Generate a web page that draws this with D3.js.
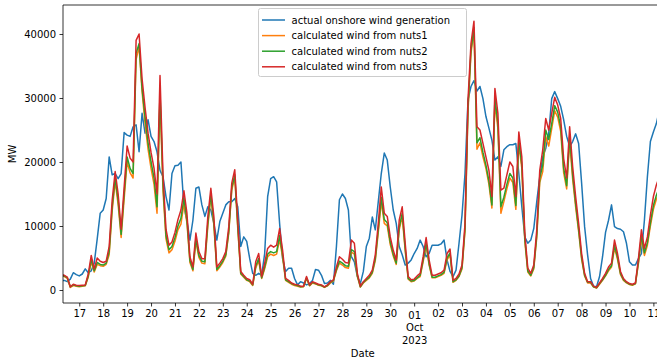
<!DOCTYPE html>
<html>
<head>
<meta charset="utf-8">
<script src="https://cdn.jsdelivr.net/npm/d3@7"></script>
<style>
  html, body { margin: 0; padding: 0; background: #ffffff; }
  svg { display: block; font-family: "DejaVu Sans", sans-serif; }
</style>
</head>
<body>
<svg id="chart" width="657" height="360"></svg>
<script>
// 3-hourly samples, first one at 16 Sep 2023 06:00
const START = new Date(2023, 8, 16, 6);
const STEP_HOURS = 3;

const actual = [
  1500, 1500, 1300, 1700, 2700, 2400, 2200, 2500, 3300, 2700, 3000, 4200, 8000, 12000, 12500, 14300, 20800, 18000, 18200, 17400,
  18200, 24600, 24200, 24000, 25500, 25800, 21600, 27600, 24500, 26600, 24000, 23200, 21600, 18700, 17700, 14600, 12500, 18200, 19400, 19500,
  20000,
  13000, 10900, 7800, 10900, 15900, 16100, 13300, 11500, 13000, 12500, 10400, 7800, 10700, 12000, 13300, 13800, 13800, 14300, 13000, 6800,
  8300, 7600, 4900, 2600, 2300, 2600, 2300, 5700, 14600, 17400, 17700, 16900, 10400, 4900, 2900, 3400, 3400, 1800, 800, 1300,
  1100, 800, 1000, 1500, 3200, 3100, 2300, 1000, 1100, 1500, 900, 6800, 14100, 15000, 14300, 12500, 5200, 4400, 2100, 1000,
  2900, 6800, 8100, 11400, 9400, 13800, 18200, 21400, 20300, 16100, 12500, 10400, 6800, 5500, 3900, 4200, 4700, 5700, 6500, 7800,
  6800, 5200, 5700, 7000, 7000, 7000, 7200, 7800, 4700, 2900, 2100, 3100, 7300, 11700, 18200, 29700, 31800, 32700, 31100, 31800,
  29900, 27100, 25300, 23400, 20300, 20800, 19300, 21900, 22400, 22700, 22700, 22900, 18200, 13000, 8300, 7300, 7800, 9600, 13800, 17700,
  20800, 22100, 24500, 29900, 31000, 29900, 28700, 26600, 24000, 22400, 23200, 24400, 22900, 16700, 9900, 5500, 1800, 600, 500, 2100,
  5200, 9000, 10900, 13300, 9900, 9600, 9500, 9100, 7300, 4400, 3900, 3900, 4900, 5700, 10900, 17700, 23200, 24700, 26000, 28100
];

const nuts1 = [
  2200, 2100, 1800, 400, 700, 600, 500, 600, 650, 2000, 4400, 2800, 4000, 3800, 3700, 4000, 5500, 12300, 17000, 13300,
  8200, 14200, 20000, 18300, 17500, 36000, 38000, 31000, 26000, 22000, 19000, 16500, 12000, 30000, 15500, 8000, 5800, 6300, 7600, 9400,
  10300,
  13500, 10500, 4300, 3000, 7600, 5100, 4200, 4100, 10000, 14600, 10200, 3000, 3600, 4300, 5300, 8900, 15600, 17600, 9600, 2500,
  2000, 1500, 1300, 700, 3400, 4600, 1800, 3300, 5200, 5600, 5400, 5600, 7900, 5100, 1500, 1200, 900, 700, 600, 450,
  500, 1800, 650, 1100, 950, 750, 650, 400, 650, 1100, 1400, 3000, 4200, 3900, 3500, 3400, 5900, 5600, 2100, 450,
  1100, 1500, 1900, 2600, 4600, 9000, 13800, 10400, 10000, 7100, 5300, 4000, 9400, 11500, 6100, 1700, 1300, 1400, 1800, 2100,
  4400, 7000, 3900, 1900, 1900, 2100, 2300, 2600, 4700, 5500, 1200, 1500, 2100, 3300, 9200, 27800, 37000, 40500, 22000, 23000,
  20800, 19000, 16500, 12800, 29300, 25200, 12000, 13800, 15800, 17500, 16800, 12600, 22800, 19000, 7600, 2800, 2200, 3300, 8200, 16800,
  18500, 24000, 22500, 25200, 28000, 27000, 24800, 18300, 15800, 23300, 17300, 13000, 9100, 4800, 2200, 1100, 1100, 450, 300, 900,
  1500, 2200, 3000, 3600, 6600, 4800, 2400, 1500, 1100, 850, 750, 950, 4100, 8000, 5400, 7000, 10000, 12600, 14200, 15300
];

const nuts2 = [
  2300, 2200, 1900, 500, 800, 650, 600, 650, 700, 2200, 4800, 3000, 4300, 4000, 3900, 4200, 6000, 13000, 17500, 14000,
  8700, 15000, 20800, 19000, 18200, 37000, 38500, 31500, 27000, 23000, 20000, 17500, 13000, 31000, 16500, 8500, 6300, 6800, 8200, 10000,
  11200,
  14300, 11000, 4600, 3200, 8000, 5400, 4500, 4400, 10500, 15000, 10600, 3200, 3800, 4500, 5500, 9200, 16000, 18000, 10000, 2600,
  2100, 1600, 1400, 800, 3700, 4900, 1900, 3600, 5600, 6000, 5800, 6000, 8500, 5500, 1600, 1300, 1000, 800, 700, 500,
  550, 1900, 700, 1200, 1000, 800, 700, 450, 700, 1200, 1500, 3200, 4500, 4200, 3800, 3700, 6300, 6000, 2300, 500,
  1200, 1600, 2000, 2800, 4900, 9500, 14500, 11000, 10500, 7500, 5600, 4200, 9800, 12000, 6500, 1800, 1400, 1500, 1900, 2300,
  4700, 7300, 4100, 2000, 2000, 2200, 2400, 2800, 5000, 5800, 1300, 1600, 2200, 3500, 9600, 28500, 37500, 41000, 23000, 23800,
  21500, 19500, 17000, 13300, 30000, 26000, 13000, 14500, 16500, 18200, 17500, 13200, 23500, 19500, 8000, 3000, 2300, 3500, 8600, 17500,
  19500, 25000, 23500, 26000, 28800, 27800, 25500, 19000, 16300, 24000, 18000, 13500, 9500, 5100, 2300, 1200, 1200, 500, 350, 1000,
  1600, 2300, 3200, 3800, 7000, 5100, 2600, 1600, 1200, 900, 800, 1000, 4400, 8500, 5800, 7400, 10500, 13200, 14800, 16000
];

const nuts3 = [
  2400, 2300, 2000, 500, 900, 750, 700, 750, 800, 2500, 5400, 3300, 5000, 4500, 4300, 4500, 6800, 14000, 18500, 15000,
  9500, 16000, 22500, 20600, 20000, 39000, 40000, 33000, 28500, 24500, 21500, 19000, 15000, 33500, 18000, 9500, 7000, 7500, 9000, 11000,
  12500,
  15500, 12000, 5200, 3600, 8900, 6000, 4900, 4900, 11500, 15900, 11500, 3600, 4200, 4900, 6000, 9900, 16700, 18800, 10900, 2900,
  2300, 1800, 1600, 900, 4400, 5700, 2100, 4200, 6500, 7000, 6700, 7000, 9600, 6200, 1800, 1500, 1100, 900, 800, 600,
  600, 2100, 800, 1300, 1100, 900, 800, 500, 800, 1300, 1600, 3600, 5200, 4800, 4300, 4200, 7800, 7300, 2600, 600,
  1300, 1800, 2300, 3100, 5500, 10400, 16100, 12000, 11500, 8300, 6200, 4700, 10900, 13000, 7300, 2100, 1600, 1700, 2200, 2600,
  5200, 8200, 4700, 2300, 2300, 2500, 2700, 3100, 5700, 6400, 1500, 1800, 2500, 3900, 10400, 29700, 38500, 42000, 25500, 25000,
  22900, 20800, 18700, 14600, 31500, 27600, 15600, 15900, 18000, 20000, 19300, 14600, 24700, 20800, 8900, 3400, 2600, 3900, 9400, 18700,
  21900, 26800, 25000, 27600, 30100, 28900, 26800, 20500, 17500, 25500, 19300, 14600, 10400, 5700, 2600, 1300, 1300, 600, 400, 1100,
  1800, 2600, 3600, 4200, 7800, 5700, 2900, 1800, 1300, 1000, 900, 1100, 4900, 9400, 6500, 8300, 11700, 14600, 16400, 17700
];

const seriesLabels = [
  'actual onshore wind generation',
  'calculated wind from nuts1',
  'calculated wind from nuts2',
  'calculated wind from nuts3',
];
const seriesValues = [actual, nuts1, nuts2, nuts3];
const seriesColors = ['#1f77b4', '#ff7f0e', '#2ca02c', '#d62728'];

const yTicks = [0, 10000, 20000, 30000, 40000];
const xDomain = [new Date(2023, 8, 16, 7, 40), new Date(2023, 9, 11, 9, 15)];
const yDomain = [-2031, 44531];

const MARGIN = { left: 63, top: 5, right: 662.6, bottom: 303 };
const FONT = '"DejaVu Sans", sans-serif';

const svg = d3.select('#chart');
svg.append('rect').attr('width', 657).attr('height', 360).attr('fill', '#ffffff');

const x = d3.scaleTime().domain(xDomain).range([MARGIN.left, MARGIN.right]);
const y = d3.scaleLinear().domain(yDomain).range([MARGIN.bottom, MARGIN.top]);

svg.append('clipPath').attr('id', 'plot-clip')
  .append('rect')
  .attr('x', MARGIN.left).attr('y', MARGIN.top)
  .attr('width', MARGIN.right - MARGIN.left).attr('height', MARGIN.bottom - MARGIN.top);

const timeAt = i => d3.timeHour.offset(START, i * STEP_HOURS);
const line = d3.line()
  .x((d, i) => x(timeAt(i)))
  .y(d => y(d));

const lines = svg.append('g').attr('clip-path', 'url(#plot-clip)');
seriesValues.forEach((vals, k) => {
  lines.append('path')
    .datum(vals)
    .attr('d', line)
    .attr('fill', 'none')
    .attr('stroke', seriesColors[k])
    .attr('stroke-width', 1.5)
    .attr('stroke-linejoin', 'round')
    .attr('stroke-linecap', 'square');
});

// Y axis
const yAxis = svg.append('g')
  .attr('transform', `translate(${MARGIN.left},0)`)
  .call(d3.axisLeft(y).tickValues(yTicks).tickFormat(d3.format('d')).tickSize(3.5).tickPadding(3.5).tickSizeOuter(0));

// X axis, one tick per day
const dayTicks = d3.timeDay.range(new Date(2023, 8, 17), new Date(2023, 9, 12));
const xAxis = svg.append('g')
  .attr('transform', `translate(0,${MARGIN.bottom})`)
  .call(d3.axisBottom(x).tickValues(dayTicks).tickFormat(d3.timeFormat('%d')).tickSize(3.5).tickPadding(3.5).tickSizeOuter(0));

[yAxis, xAxis].forEach(ax => {
  ax.select('.domain').remove();
  ax.selectAll('.tick line').attr('stroke', '#000').attr('stroke-width', 0.8);
  ax.selectAll('.tick text').attr('fill', '#000').style('font-family', FONT).style('font-size', '10px');
});

xAxis.selectAll('.tick text')
  .filter(d => d.getDate() === 1)
  .each(function (d) {
    const t = d3.select(this);
    t.attr('dy', '0.85em');
    t.append('tspan').attr('x', 0).attr('dy', '1.27em').text(d3.timeFormat('%b')(d));
    t.append('tspan').attr('x', 0).attr('dy', '1.27em').text(d3.timeFormat('%Y')(d));
  });

// Spines
const spines = svg.append('g').attr('stroke', '#000').attr('stroke-width', 0.8).attr('fill', 'none');
spines.append('line').attr('x1', MARGIN.left).attr('x2', MARGIN.left).attr('y1', MARGIN.top).attr('y2', MARGIN.bottom);
spines.append('line').attr('x1', MARGIN.left).attr('x2', MARGIN.right).attr('y1', MARGIN.bottom).attr('y2', MARGIN.bottom);
spines.append('line').attr('x1', MARGIN.left).attr('x2', MARGIN.right).attr('y1', MARGIN.top).attr('y2', MARGIN.top);
spines.append('line').attr('x1', MARGIN.right).attr('x2', MARGIN.right).attr('y1', MARGIN.top).attr('y2', MARGIN.bottom);

// Axis labels
svg.append('text')
  .attr('x', (MARGIN.left + MARGIN.right) / 2).attr('y', 357)
  .attr('text-anchor', 'middle')
  .style('font-family', FONT).style('font-size', '10px')
  .text('Date');

svg.append('text')
  .attr('transform', `translate(16,${(MARGIN.top + MARGIN.bottom) / 2}) rotate(-90)`)
  .attr('text-anchor', 'middle')
  .style('font-family', FONT).style('font-size', '10px')
  .text('MW');

// Legend
const legend = svg.append('g').attr('transform', 'translate(258.5,8.5)');
legend.append('rect')
  .attr('width', 208).attr('height', 68).attr('rx', 2)
  .attr('fill', '#ffffff').attr('fill-opacity', 0.8)
  .attr('stroke', '#cccccc').attr('stroke-width', 1);

seriesLabels.forEach((label, k) => {
  const row = legend.append('g').attr('transform', `translate(0,${11.5 + k * 15.6})`);
  row.append('line')
    .attr('x1', 3.5).attr('x2', 26.5)
    .attr('stroke', seriesColors[k]).attr('stroke-width', 1.5);
  row.append('text')
    .attr('x', 33).attr('y', 3.6)
    .style('font-family', FONT).style('font-size', '10px')
    .text(label);
});
</script>
</body>
</html>
